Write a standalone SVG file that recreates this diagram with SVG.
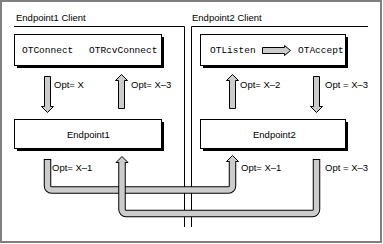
<svg xmlns="http://www.w3.org/2000/svg" width="383" height="244" viewBox="0 0 383 244">
<style>
.lbl{font-family:"Liberation Sans",Arial,sans-serif;font-size:9.5px;fill:#000}
.mono{font-family:"Liberation Mono","Courier New",monospace;font-size:9.5px;fill:#000}
.box{fill:#fff;stroke:#000;stroke-width:1}
.shadow{fill:#000}
.line{stroke:#000;stroke-width:1;fill:none}
.arrow{fill:#ccc;stroke:#000;stroke-width:1;stroke-linejoin:miter}
.pipeo{fill:none;stroke:#000;stroke-width:7.5}
.pipei{fill:none;stroke:#ccc;stroke-width:5.5}
</style>
<rect x="0" y="0" width="383" height="244" fill="#fff"/>
<rect x="1" y="1" width="380" height="241" fill="none" stroke="#808080" stroke-width="2"/>

<g id="client1">
<text class="lbl" x="16" y="21">Endpoint1 Client</text>
<path class="line" d="M14 26.5H184.5V227"/>
</g>
<g id="client2">
<text class="lbl" x="192" y="21">Endpoint2 Client</text>
<path class="line" d="M191.5 227V26.5H368"/>
</g>

<g id="box1">
<rect class="shadow" x="17" y="37" width="147" height="31"/>
<rect class="box" x="14.5" y="34.5" width="147" height="31"/>
<text class="mono" x="22" y="53">OTConnect</text>
<text class="mono" x="89" y="53">OTRcvConnect</text>
</g>
<g id="box2">
<rect class="shadow" x="203" y="37" width="145" height="31"/>
<rect class="box" x="200.5" y="34.5" width="145" height="31"/>
<text class="mono" x="210" y="53">OTListen</text>
<text class="mono" x="298" y="53">OTAccept</text>
</g>
<g id="endpoint1">
<rect class="shadow" x="17" y="122" width="147" height="29"/>
<rect class="box" x="14.5" y="119.5" width="147" height="29"/>
<text class="lbl" x="67" y="138">Endpoint1</text>
</g>
<g id="endpoint2">
<rect class="shadow" x="203" y="122" width="145" height="29"/>
<rect class="box" x="200.5" y="119.5" width="145" height="29"/>
<text class="lbl" x="253" y="138">Endpoint2</text>
</g>

<g id="connectors">
<polygon class="arrow" points="262.5,47.5 284.5,47.5 284.5,45.5 290.5,50.5 284.5,55.5 284.5,53.5 262.5,53.5"/>
<polygon class="arrow" points="44.5,76.5 50.5,76.5 50.5,106.5 53.5,106.5 47.5,112.5 41.5,106.5 44.5,106.5"/>
<polygon class="arrow" points="118.5,108.5 124.5,108.5 124.5,80.5 127.5,80.5 121.5,74.5 115.5,80.5 118.5,80.5"/>
<polygon class="arrow" points="229.5,108.5 235.5,108.5 235.5,80.5 238.5,80.5 232.5,74.5 226.5,80.5 229.5,80.5"/>
<polygon class="arrow" points="313.5,76.5 319.5,76.5 319.5,106.5 322.5,106.5 316.5,112.5 310.5,106.5 313.5,106.5"/>

<path class="pipeo" d="M47.5 159V186a4 4 0 0 0 4 4H228.5a4 4 0 0 0 4-4V161"/>
<polygon class="arrow" points="226.5,161.5 232.5,155.5 238.5,161.5"/>
<path class="pipei" d="M47.5 160V186a4 4 0 0 0 4 4H228.5a4 4 0 0 0 4-4V160.5"/>
<path class="pipeo" d="M316.5 159V209.5a4 4 0 0 1-4 4H126a4 4 0 0 1-4-4V162"/>
<polygon class="arrow" points="116,162.5 122,156.5 128,162.5"/>
<path class="pipei" d="M316.5 160V209.5a4 4 0 0 1-4 4H126a4 4 0 0 1-4-4V161.5"/>
</g>

<g id="labels">
<text class="lbl" x="54" y="87.5">Opt= X</text>
<text class="lbl" x="131" y="87.5">Opt= X–3</text>
<text class="lbl" x="240" y="87.5">Opt= X–2</text>
<text class="lbl" x="325" y="87.5">Opt = X–3</text>
<text class="lbl" x="52" y="171">Opt= X–1</text>
<text class="lbl" x="241" y="171">Opt= X–1</text>
<text class="lbl" x="325" y="171">Opt = X–3</text>
</g>
</svg>
